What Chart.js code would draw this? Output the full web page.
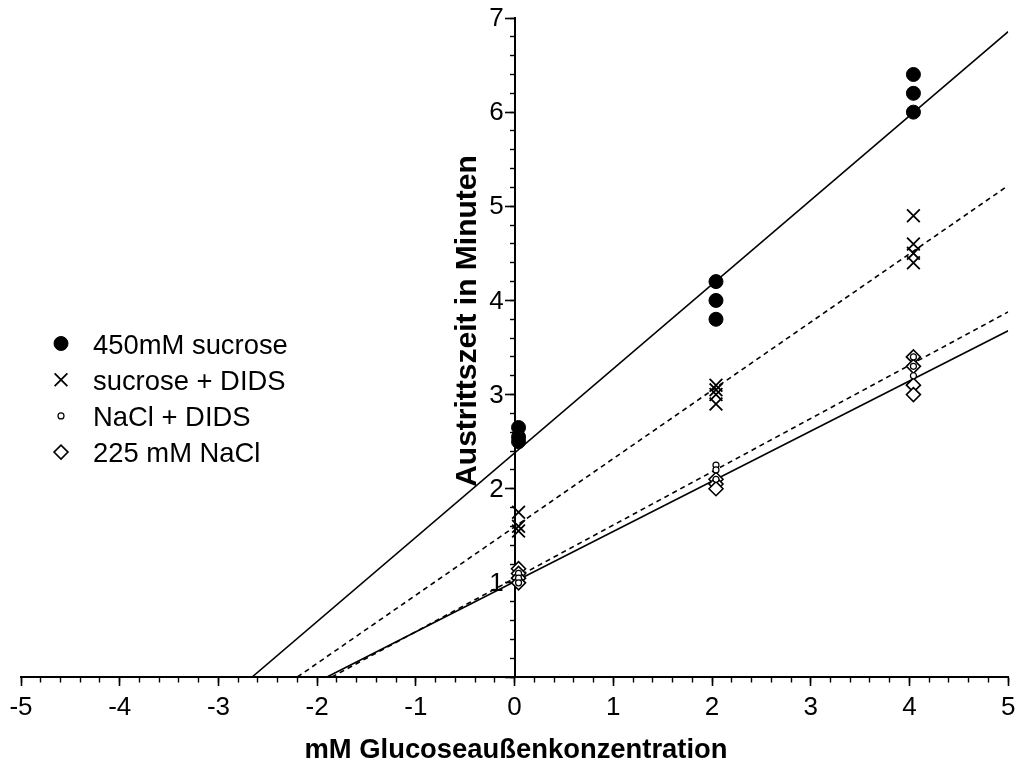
<!DOCTYPE html>
<html>
<head>
<meta charset="utf-8">
<script src="https://cdn.jsdelivr.net/npm/chart.js@4/dist/chart.umd.min.js"></script>
<style>
  html, body { margin: 0; padding: 0; background: #fff; }
  #wrap { width: 1019px; height: 764px; position: relative; }
</style>
</head>
<body>
<div id="wrap"><canvas id="c" width="1019" height="764"></canvas></div>
<script>
// ---- Data ----
const seriesNames = ['450mM sucrose', 'sucrose + DIDS', 'NaCl + DIDS', '225 mM NaCl'];

const sucroseX = [0.04, 0.04, 0.04, 2.04, 2.04, 2.04, 4.04, 4.04, 4.04];
const sucroseY = [2.65, 2.55, 2.5, 4.2, 4.0, 3.8, 6.4, 6.2, 6.0];

const sucroseDidsX = [0.04, 0.04, 0.04, 2.04, 2.04, 2.04, 2.04, 4.04, 4.04, 4.04, 4.04];
const sucroseDidsY = [1.75, 1.6, 1.55, 3.1, 3.05, 3.0, 2.9, 4.9, 4.6, 4.5, 4.4];

const naclDidsX = [0.04, 0.04, 0.04, 2.04, 2.04, 2.04, 4.04, 4.04, 4.04];
const naclDidsY = [1.1, 1.05, 1.0, 2.25, 2.2, 2.1, 3.4, 3.3, 3.2];

const naclX = [0.04, 0.04, 0.04, 0.04, 2.04, 2.04, 2.04, 4.04, 4.04, 4.04, 4.04];
const naclY = [1.15, 1.1, 1.05, 1.0, 2.1, 2.05, 2.0, 3.4, 3.3, 3.1, 3.0];

// regression lines (slope, intercept at x = 0)
const fitSlopes = [0.895, 0.725, 0.566, 0.533];
const fitIntercepts = [2.38, 1.595, 1.048, 1.013];

const xTickLabels = ['-5', '-4', '-3', '-2', '-1', '0', '1', '2', '3', '4', '5'];
const yTickLabels = ['1', '2', '3', '4', '5', '6', '7'];
const xRange = [-5, 5];
const yRange = [0, 7];

// ---- helpers ----
function pts(xs, ys) { return xs.map((x, i) => ({ x: x, y: ys[i] })); }
// fitted line from its x-axis crossing to the right edge of the x range
function fitLine(m, b) {
  const x0 = Math.max(xRange[0], -b / m);
  return [{ x: x0, y: m * x0 + b }, { x: xRange[1], y: m * xRange[1] + b }];
}

const FONT = "'Liberation Sans', Arial, Helvetica, sans-serif";

const markerStyles = [
  { pointStyle: 'circle', radius: 7, fill: '#000', borderWidth: 1 },
  { pointStyle: 'crossRot', radius: 9, fill: '#000', borderWidth: 1.8 },
  { pointStyle: 'circle', radius: 3, fill: '#fff', borderWidth: 1.2 },
  { pointStyle: 'rectRot', radius: 7, fill: '#fff', borderWidth: 1.6 }
];
const seriesXs = [sucroseX, sucroseDidsX, naclDidsX, naclX];
const seriesYs = [sucroseY, sucroseDidsY, naclDidsY, naclY];
const lineDash = [[], [5, 4], [5, 4], []];

const datasets = [];
for (let s = 0; s < 4; s++) {
  datasets.push({
    type: 'line',
    label: seriesNames[s] + ' fit',
    data: fitLine(fitSlopes[s], fitIntercepts[s]),
    borderColor: '#000',
    borderWidth: 1.6,
    borderDash: lineDash[s],
    pointRadius: 0,
    fill: false,
    order: 2
  });
}
for (let s = 0; s < 4; s++) {
  const ms = markerStyles[s];
  datasets.push({
    type: 'scatter',
    label: seriesNames[s],
    data: pts(seriesXs[s], seriesYs[s]),
    pointStyle: ms.pointStyle,
    pointRadius: ms.radius,
    pointHoverRadius: ms.radius,
    pointBackgroundColor: ms.fill,
    pointBorderColor: '#000',
    pointBorderWidth: ms.borderWidth,
    order: 1
  });
}

const textPlugin = {
  id: 'texts',
  afterDraw(chart) {
    const ctx = chart.ctx;
    const xs = chart.scales.x, ys = chart.scales.y;
    ctx.save();
    ctx.fillStyle = '#000';
    // y tick labels, left of the y axis
    ctx.font = '26px ' + FONT;
    ctx.textAlign = 'right';
    ctx.textBaseline = 'middle';
    const axisX = xs.getPixelForValue(0);
    yTickLabels.forEach((lab) => {
      ctx.fillText(lab, axisX - 11, ys.getPixelForValue(Number(lab)) + 1);
    });
    // x title
    ctx.font = 'bold 27.4px ' + FONT;
    ctx.textAlign = 'center';
    ctx.textBaseline = 'alphabetic';
    ctx.fillText('mM Glucoseaußenkonzentration', 516, 758);
    // y title
    ctx.save();
    ctx.font = 'bold 30px ' + FONT;
    ctx.translate(476, 321);
    ctx.rotate(-Math.PI / 2);
    ctx.fillText('Austrittszeit in Minuten', 0, 0);
    ctx.restore();
    // legend
    ctx.font = '27.4px ' + FONT;
    ctx.textAlign = 'left';
    for (let i = 0; i < 4; i++) {
      const base = 353.5 + 36.2 * i;
      const ms = markerStyles[i];
      ctx.fillStyle = ms.fill;
      ctx.strokeStyle = '#000';
      ctx.lineWidth = ms.borderWidth;
      Chart.helpers.drawPoint(ctx, { pointStyle: ms.pointStyle, radius: ms.radius, rotation: 0, borderWidth: ms.borderWidth }, 61, base - 10);
      ctx.fillStyle = '#000';
      ctx.fillText(seriesNames[i], 93, base);
    }
    ctx.restore();
  }
};

new Chart(document.getElementById('c'), {
  type: 'scatter',
  data: { datasets: datasets },
  options: {
    responsive: false,
    animation: false,
    events: [],
    layout: { padding: { left: 21, right: 1, top: 18, bottom: 87 } },
    plugins: { legend: { display: false }, tooltip: { enabled: false } },
    scales: {
      x: {
        type: 'linear', min: xRange[0], max: xRange[1],
        position: { y: 0 },
        border: { display: true, color: '#000', width: 2 },
        grid: { display: true, drawOnChartArea: false, drawTicks: true, tickLength: 8, tickColor: '#000', tickWidth: 1.6 },
        ticks: {
          stepSize: 1, autoSkip: false, maxRotation: 0, padding: 0, color: '#000',
          font: { size: 26, family: FONT, lineHeight: 1.738 },
          callback: (v) => { const i = Math.round(v - xRange[0]); return xTickLabels[i] ?? ''; }
        }
      },
      xMinor: {
        type: 'linear', axis: 'x', min: xRange[0], max: xRange[1],
        position: { y: 0 },
        border: { display: false },
        grid: { display: true, drawOnChartArea: false, drawTicks: true, tickLength: 5.5, tickColor: '#000', tickWidth: 1.4 },
        ticks: { stepSize: 0.2, display: false, autoSkip: false }
      },
      y: {
        type: 'linear', min: yRange[0], max: yRange[1],
        position: { x: 0 },
        border: { display: true, color: '#000', width: 2 },
        grid: { display: true, drawOnChartArea: false, drawTicks: true, tickLength: 9, tickColor: '#000', tickWidth: 1.6 },
        ticks: { stepSize: 1, autoSkip: false, display: false }
      },
      yMinor: {
        type: 'linear', axis: 'y', min: yRange[0], max: yRange[1],
        position: { x: 0 },
        border: { display: false },
        grid: { display: true, drawOnChartArea: false, drawTicks: true, tickLength: 5, tickColor: '#000', tickWidth: 1.4 },
        ticks: { stepSize: 0.2, display: false, autoSkip: false }
      }
    }
  },
  plugins: [textPlugin]
});
</script>
</body>
</html>
